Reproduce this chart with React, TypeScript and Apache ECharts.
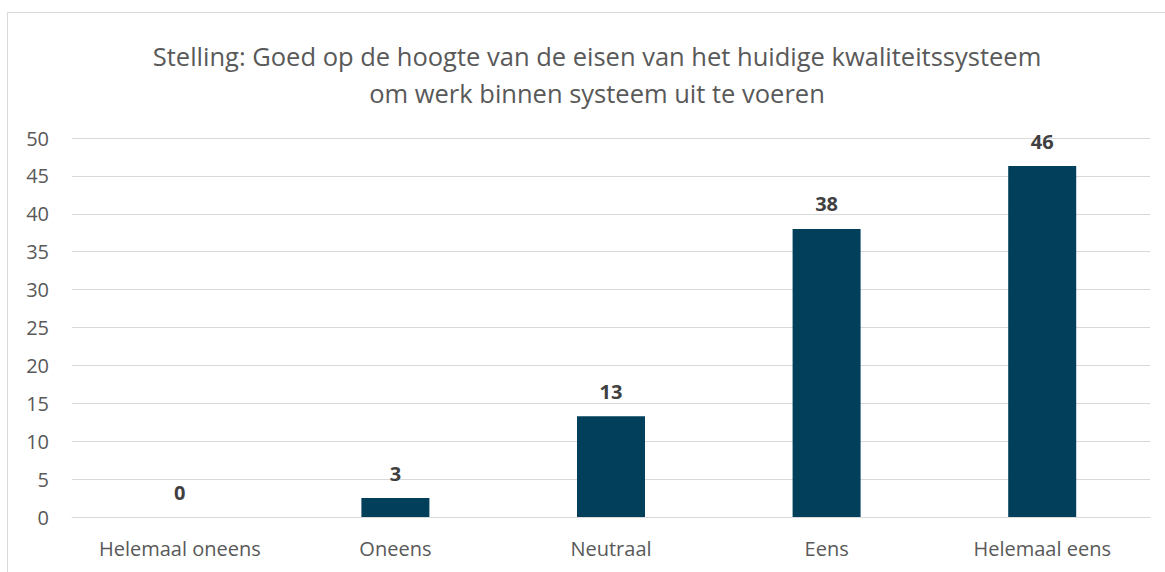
import React, { useEffect, useRef } from "react";
import * as echarts from "echarts";

const titleLines = [
  "Stelling: Goed op de hoogte van de eisen van het huidige kwaliteitssysteem",
  "om werk binnen systeem uit te voeren",
];
const categories = ["Helemaal oneens", "Oneens", "Neutraal", "Eens", "Helemaal eens"];
const values = [0, 2.5, 13.3, 38, 46.3];
const yTicks = { min: 0, max: 50, interval: 5 };

export default function App() {
  const ref = useRef<HTMLDivElement>(null);
  useEffect(() => {
    if (!ref.current) return;
    const chart = echarts.init(ref.current, undefined, { renderer: "svg" });
    const font = "'Open Sans', 'Liberation Sans', sans-serif";
    chart.setOption({
      animation: false,
      backgroundColor: "#ffffff",
      title: {
        text: titleLines.join("\n"),
        left: 592,
        top: 32,
        textAlign: "center",
        textStyle: {
          fontFamily: font,
          fontSize: 25.5,
          fontWeight: "normal",
          color: "#595959",
          lineHeight: 37,
        },
      },
      graphic: [
        {
          type: "rect",
          shape: { x: 7.5, y: 12.5, width: 1300, height: 700 },
          style: { fill: "none", stroke: "#d9d9d9", lineWidth: 1 },
          silent: true,
        },
      ],
      grid: { left: 72, right: 15, top: 138, bottom: 55, containLabel: false },
      xAxis: {
        type: "category",
        data: categories,
        axisLine: { show: true, lineStyle: { color: "#d9d9d9" } },
        axisTick: { show: false },
        axisLabel: {
          fontFamily: font,
          fontSize: 20,
          color: "#595959",
          margin: 21,
        },
      },
      yAxis: {
        type: "value",
        min: yTicks.min,
        max: yTicks.max,
        interval: yTicks.interval,
        axisLine: { show: false },
        axisTick: { show: false },
        splitLine: { lineStyle: { color: "#d9d9d9", width: 1 } },
        axisLabel: {
          fontFamily: font,
          fontSize: 20,
          color: "#595959",
          margin: 23,
        },
      },
      series: [
        {
          type: "bar",
          data: values,
          barWidth: 68,
          itemStyle: { color: "#023f5a" },
          label: {
            show: true,
            position: "top",
            distance: 15,
            fontFamily: font,
            fontSize: 20,
            fontWeight: "bold",
            color: "#404040",
            formatter: (p: any) => String(Math.round(p.value)),
          },
        },
      ],
    });
    return () => chart.dispose();
  }, []);
  return (
    <div
      ref={ref}
      style={{ position: "fixed", left: 0, top: 0, width: 1165, height: 572 }}
    />
  );
}
